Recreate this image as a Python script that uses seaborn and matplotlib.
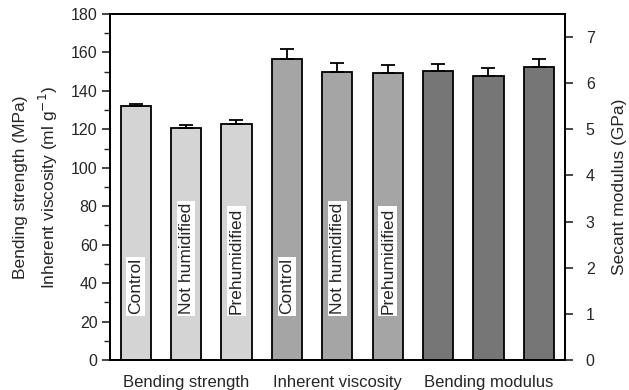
import matplotlib
matplotlib.use("Agg")
import matplotlib.pyplot as plt
from matplotlib.ticker import MultipleLocator
import numpy as np
import pandas as pd
import seaborn as sns

# Treatments shown inside each bar
treatments = ["Control", "Not humidified", "Prehumidified"]
groups = ["Bending strength", "Inherent viscosity", "Bending modulus"]

# Left axis: bending strength (MPa) and inherent viscosity (ml g^-1)
strength_mean = [132.3, 120.9, 122.9]
strength_err = [1.0, 1.3, 1.8]
viscosity_mean = [156.8, 149.7, 149.1]
viscosity_err = [4.8, 4.6, 4.4]
# Right axis: secant modulus (GPa)
modulus_mean = [6.27, 6.16, 6.35]
modulus_err = [0.14, 0.16, 0.17]

colors = ["#d4d4d4", "#a5a5a5", "#767676"]

sns.set_style("ticks")
plt.rcParams["font.family"] = ["Liberation Sans", "DejaVu Sans"]

fig = plt.figure(figsize=(6.29, 3.90), dpi=100)
ax = fig.add_axes([0.1749, 0.0769, 0.7234, 0.8872])
ax2 = ax.twinx()

left_df = pd.DataFrame({
    "pos": np.arange(6, dtype=float),
    "value": strength_mean + viscosity_mean,
    "err": strength_err + viscosity_err,
    "group": [groups[0]] * 3 + [groups[1]] * 3,
})
right_df = pd.DataFrame({
    "pos": np.arange(6, 9, dtype=float),
    "value": modulus_mean,
    "err": modulus_err,
    "group": [groups[2]] * 3,
})

bar_kw = dict(edgecolor="black", linewidth=1.3, width=0.6, native_scale=True,
              legend=False, errorbar=None, zorder=2)
sns.barplot(data=left_df, x="pos", y="value", hue="group",
            palette={groups[0]: colors[0], groups[1]: colors[1]}, ax=ax, **bar_kw)
sns.barplot(data=right_df, x="pos", y="value", hue="group",
            palette={groups[2]: colors[2]}, ax=ax2, **bar_kw)

# Upper error bars only
for axis, df in ((ax, left_df), (ax2, right_df)):
    axis.errorbar(df["pos"], df["value"], yerr=[np.zeros(len(df)), df["err"]],
                  fmt="none", ecolor="black", elinewidth=1.3, capsize=5,
                  capthick=1.3, zorder=3)

# Treatment names written up the bars
for i in range(9):
    ax.text(i, 23.7, treatments[i % 3], rotation=90, ha="center", va="bottom",
            fontsize=12.5, zorder=5,
            bbox=dict(boxstyle="square,pad=0.1", facecolor="white",
                      edgecolor="none"))

ax.set_xlim(-0.51, 8.52)
ax.set_ylim(0, 180)
ax2.set_ylim(0, 7.5)
ax.yaxis.set_major_locator(MultipleLocator(20))
ax.yaxis.set_minor_locator(MultipleLocator(10))
ax2.yaxis.set_major_locator(MultipleLocator(1))

ax.set_xticks([1, 4, 7])
ax.set_xticklabels(groups, fontsize=12)
ax.tick_params(axis="x", length=0, pad=11)
ax.tick_params(axis="y", which="major", direction="out", length=6, width=1.2,
               labelsize=11.5, pad=3)
ax.tick_params(axis="y", which="minor", direction="out", length=4, width=1.0)
ax2.tick_params(axis="y", which="major", direction="out", length=6, width=1.2,
                labelsize=11.5, pad=9)

ax.set_xlabel("")
ax.set_ylabel("Bending strength (MPa)\nInherent viscosity (ml g$^{-1}$)",
              fontsize=12.5, linespacing=1.45, labelpad=8)
ax2.set_ylabel("Secant modulus (GPa)", fontsize=12.5, labelpad=12)

for axis in (ax, ax2):
    for sp in axis.spines.values():
        sp.set_visible(True)
        sp.set_linewidth(1.3)
        sp.set_color("black")

fig.savefig("out.png", dpi=100)
